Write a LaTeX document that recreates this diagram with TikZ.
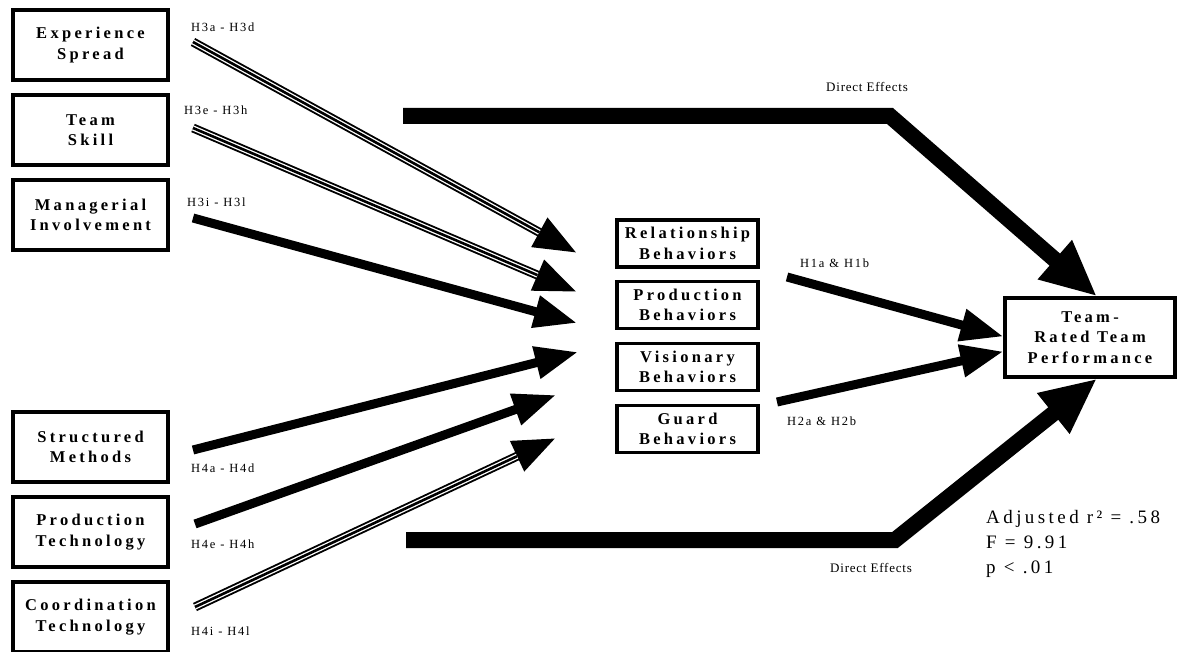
\documentclass[tikz,border=0pt]{standalone}
\usepackage{fontspec}
\setmainfont{Liberation Serif}
\newfontfamily\sperrfett{Liberation Serif}[LetterSpace=20]
\newfontfamily\sperrhyp{Liberation Serif}[LetterSpace=14]
\newfontfamily\sperrdir{Liberation Serif}[LetterSpace=6]
\newfontfamily\sperrstat{Liberation Serif}[LetterSpace=18]
\newcommand{\kastenschrift}{\sperrfett\bfseries\fontsize{16.5}{20.5}\selectfont}
\newcommand{\hypschrift}{\sperrhyp\fontsize{12.5}{14}\selectfont}
\newcommand{\dirschrift}{\sperrdir\fontsize{13}{15}\selectfont}
\newcommand{\statschrift}{\sperrstat\fontsize{19}{23}\selectfont}
\usetikzlibrary{arrows.meta}

\begin{document}
\begin{tikzpicture}[x=1pt,y=-1pt,
  kasten/.style={draw,line width=3.2pt,align=center,inner sep=0,font=\kastenschrift},
  quelle/.style={kasten,minimum width=155pt,minimum height=70pt},
  verhalten/.style={kasten,minimum width=141pt,minimum height=47pt},
  hyp/.style={anchor=base west,inner sep=0,font=\hypschrift},
  direktlabel/.style={anchor=base west,inner sep=0,font=\dirschrift},
  stat/.style={anchor=base west,inner sep=0,font=\statschrift},
  pfeil/.style={line width=9pt,-{Triangle[length=43pt,width=31pt]}},
  streifen/.style={white,line width=5.2pt,shorten >=43pt},
  mittellinie/.style={line width=2.6pt,shorten >=43pt},
  direkt/.style={line width=16pt,line join=miter,-{Triangle[length=56pt,width=48pt]}}]
\useasboundingbox (0,0) rectangle (1178,652);
\node[quelle] (es) at (90.5,45) {Experience\\Spread};
\node[quelle] (ts) at (90.5,130) {Team\\Skill};
\node[quelle] (mi) at (90.5,215) {Managerial\\Involvement};
\node[quelle] (sm) at (90.5,447) {Structured\\Methods};
\node[quelle] (pt) at (90.5,532) {Production\\Technology};
\node[quelle] (ct) at (90.5,617) {Coordination\\Technology};
\node[verhalten] (rb) at (687.5,243.5) {Relationship\\Behaviors};
\node[verhalten] (pb) at (687.5,305) {Production\\Behaviors};
\node[verhalten] (vb) at (687.5,367) {Visionary\\Behaviors};
\node[verhalten] (gb) at (687.5,429) {Guard\\Behaviors};
\node[kasten,minimum width=170pt,minimum height=79pt] (perf) at (1090,337.5) {Team-\\Rated Team\\Performance};
\coordinate (es-o) at (193,42);  \coordinate (es-i) at (577,253);
\coordinate (ts-o) at (193,128); \coordinate (ts-i) at (577,292);
\coordinate (mi-o) at (193,218); \coordinate (mi-i) at (577,323);
\coordinate (sm-o) at (193,450); \coordinate (sm-i) at (578,352);
\coordinate (pt-o) at (195,524); \coordinate (pt-i) at (556,395);
\coordinate (ct-o) at (195,607); \coordinate (ct-i) at (556,438);
\coordinate (h1-o) at (787,277); \coordinate (perf-a) at ([yshift=1pt]perf.west);
\coordinate (h2-o) at (777,402); \coordinate (perf-b) at ([yshift=-14pt]perf.west);
\coordinate (d1-o) at (403,116); \coordinate (d1-k) at (890,116);
\coordinate (d2-o) at (406,540); \coordinate (d2-k) at (895,540);
\coordinate (perf-n) at ([xshift=7pt]perf.north);
\coordinate (perf-s) at ([xshift=7pt]perf.south);
\foreach \q/\z in {mi-o/mi-i,sm-o/sm-i,pt-o/pt-i,h1-o/perf-a,h2-o/perf-b} \draw[pfeil] (\q) -- (\z);
\foreach \q/\z in {es-o/es-i,ts-o/ts-i,ct-o/ct-i} {
  \draw[pfeil] (\q) -- (\z);
  \draw[streifen] (\q) -- (\z);
  \draw[mittellinie] (\q) -- (\z);
}
\draw[direkt] (d1-o) -- (d1-k) -- (perf-n);
\draw[direkt] (d2-o) -- (d2-k) -- (perf-s);
\node[hyp] (h3a) at (191,32) {H3a - H3d};
\node[hyp] (h3e) at (184,115) {H3e - H3h};
\node[hyp] (h3i) at (187,207) {H3i - H3l};
\node[hyp] (h4a) at (191,472) {H4a - H4d};
\node[hyp] (h4e) at (191,548) {H4e - H4h};
\node[hyp] (h4i) at (191,635) {H4i - H4l};
\node[hyp] (h1) at (800,268) {H1a \& H1b};
\node[hyp] (h2) at (787,425) {H2a \& H2b};
\node[direktlabel] (de1) at (826,92) {Direct Effects};
\node[direktlabel] (de2) at (830,572) {Direct Effects};
\node[stat] (r2) at (986,523) {Adjusted r² = .58};
\node[stat] (fw) at ([yshift=-25pt]r2.base west) {F = 9.91};
\node[stat] (pw) at ([yshift=-25pt]fw.base west) {p < .01};
\end{tikzpicture}
\end{document}
